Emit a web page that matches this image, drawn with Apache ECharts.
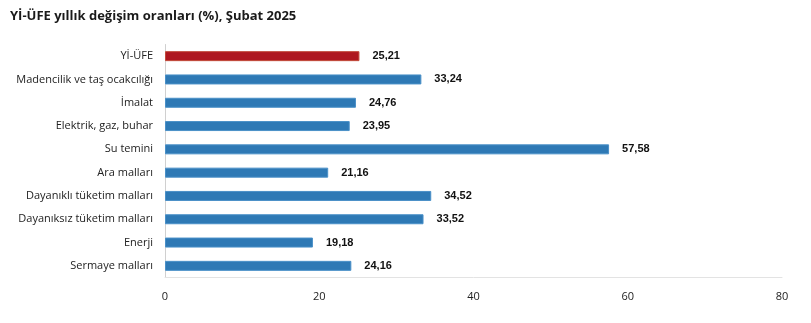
<!DOCTYPE html>
<html><head><meta charset="utf-8">
<script src="https://cdn.jsdelivr.net/npm/echarts@6/dist/echarts.min.js"></script>
<style>html,body{margin:0;padding:0;background:#fff}#c{width:811px;height:323px}</style>
</head><body><div id="c"></div>
<script>
const title = 'Yİ-ÜFE yıllık değişim oranları (%), Şubat 2025';
const categories = ['Yİ-ÜFE','Madencilik ve taş ocakcılığı','İmalat','Elektrik, gaz, buhar','Su temini','Ara malları','Dayanıklı tüketim malları','Dayanıksız tüketim malları','Enerji','Sermaye malları'];
const values = [25.21,33.24,24.76,23.95,57.58,21.16,34.52,33.52,19.18,24.16];
const xTicks = [0,20,40,60,80];

const chart = echarts.init(document.getElementById('c'));
const font = '"Open Sans", "Noto Sans", sans-serif';
chart.setOption({
  animation:false,
  title:{text:title,left:5,top:5,textStyle:{fontSize:13,fontWeight:'bold',color:'#1a1a1a',fontFamily:font}},
  grid:{left:165,right:29,top:44.5,bottom:45.5,containLabel:false},
  xAxis:{type:'value',min:xTicks[0],max:xTicks[xTicks.length-1],interval:20,
    axisLine:{show:true,lineStyle:{color:'#e3e3e3',width:1}},
    axisTick:{show:false},splitLine:{show:false},
    axisLabel:{color:'#222',fontSize:11,fontFamily:font,margin:14}},
  yAxis:{type:'category',data:categories,inverse:true,
    axisLine:{show:true,lineStyle:{color:'#d0d0d0'}},axisTick:{show:false},
    axisLabel:{color:'#222',fontSize:11,fontFamily:font,margin:12}},
  series:[{type:'bar',data:values.map((v,i)=>({value:v,itemStyle:{color:i===0?'#AE1820':'#2E79B5',borderColor:i===0?'#c24a3a':'#4a90c8',borderWidth:1}})),
    barWidth:10,
    label:{show:true,position:'right',distance:13,fontSize:11,fontWeight:'bold',color:'#111',fontFamily:'"Liberation Sans", Arial, sans-serif',
      formatter:p=>p.value.toFixed(2).replace('.',',')}}]
});
</script></body></html>
